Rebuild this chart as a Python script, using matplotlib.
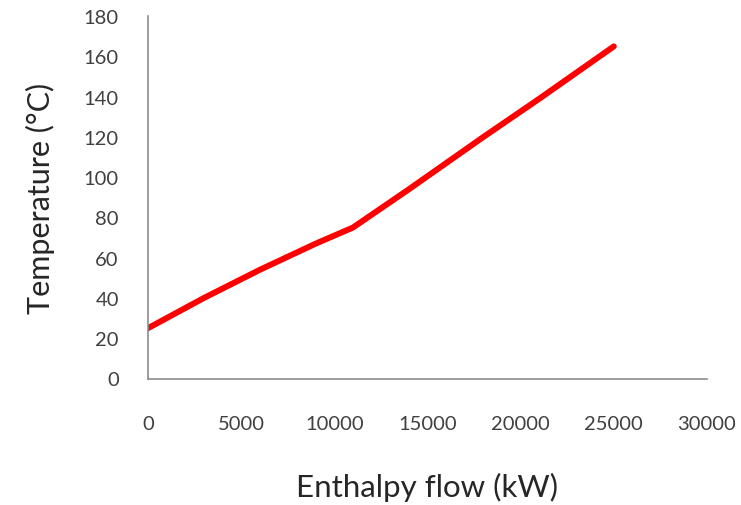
#Curva temperatura x fluxo de entalpia
import matplotlib
matplotlib.use('Agg')
import matplotlib.pyplot as plt

enthalpy = [0, 3000, 6000, 9000, 11000, 14000, 18000, 21000, 25000]  #kW
temperature = [25, 40, 54, 67, 75, 94, 120, 139, 165]  #°C

x_ticks = [0, 5000, 10000, 15000, 20000, 25000, 30000]
y_ticks = [0, 20, 40, 60, 80, 100, 120, 140, 160, 180]

plt.rcParams['font.family'] = ['Lato', 'DejaVu Sans']

fig = plt.figure(figsize=(7.41, 5.06), dpi=100)
ax = fig.add_axes([0.1997, 0.25, 0.7544, 0.716])

ax.plot(enthalpy, temperature, color='#ff0000', linewidth=4.3, solid_capstyle='round')

ax.set_xlim(0, 30000)
ax.set_ylim(0, 180)
ax.set_xticks(x_ticks)
ax.set_yticks(y_ticks)
ax.tick_params(axis='both', length=0, labelsize=14.5, colors='#404040')
ax.tick_params(axis='x', pad=26)
ax.tick_params(axis='y', pad=21)

for s in ['top', 'right']:
    ax.spines[s].set_visible(False)
for s in ['left', 'bottom']:
    ax.spines[s].set_color('#8c8c8c')
    ax.spines[s].set_linewidth(1.2)

ax.set_xlabel('Enthalpy flow (kW)', fontsize=22.5, color='#262626', va='center')
ax.xaxis.set_label_coords(0.5, -0.297)
ax.set_ylabel('Temperature (°C)', fontsize=22, color='#262626', va='center', ha='center')
ax.yaxis.set_label_coords(-0.193, 0.5)

fig.savefig('out.png', dpi=100)
